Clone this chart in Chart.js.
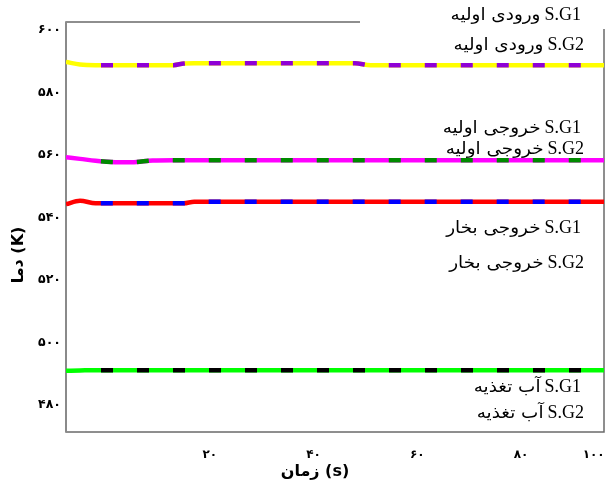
<!DOCTYPE html>
<html><head><meta charset="utf-8">
<script src="https://cdn.jsdelivr.net/npm/chart.js@4"></script>
<style>html,body{margin:0;padding:0;background:#fff}#wrap{width:612px;height:492px;position:relative}</style>
</head><body><div id="wrap"><canvas id="c" width="612" height="492"></canvas></div>
<script>
// time (s)
const timeS      = [-7.7, -5, -2, 1, 5, 9, 13, 15, 17, 48, 51, 70, 96];
// temperatures (K); S.G2 curves are not drawn at the very first instant
const inletSG1   = [589.8, 589.0, 588.8, 588.8, 588.8, 588.8, 588.8, 589.3, 589.4, 589.4, 588.8, 588.8, 588.8];
const inletSG2   = [null,  589.0, 588.8, 588.8, 588.8, 588.8, 588.8, 589.3, 589.4, 589.4, 588.8, 588.8, 588.8];
const outletSG1  = [559.3, 558.8, 558.2, 557.8, 557.7, 558.3, 558.4, 558.4, 558.4, 558.4, 558.4, 558.4, 558.4];
const outletSG2  = [null,  558.8, 558.2, 557.8, 557.7, 558.3, 558.4, 558.4, 558.4, 558.4, 558.4, 558.4, 558.4];
const steamSG1   = [544.3, 545.4, 544.6, 544.6, 544.6, 544.6, 544.6, 544.6, 545.1, 545.1, 545.1, 545.1, 545.1];
const steamSG2   = [null,  545.4, 544.6, 544.6, 544.6, 544.6, 544.6, 544.6, 545.1, 545.1, 545.1, 545.1, 545.1];
const feedSG1    = [491.0, 491.1, 491.2, 491.2, 491.2, 491.2, 491.2, 491.2, 491.2, 491.2, 491.2, 491.2, 491.2];
const feedSG2    = [null,  491.1, 491.2, 491.2, 491.2, 491.2, 491.2, 491.2, 491.2, 491.2, 491.2, 491.2, 491.2];

const yTickValues = [480, 500, 520, 540, 560, 580, 600];
const yTickLabels = ['۴۸۰', '۵۰۰', '۵۲۰', '۵۴۰', '۵۶۰', '۵۸۰', '۶۰۰'];
const xTickValues = [20, 40, 60, 80, 100];
const xTickLabels = ['۲۰', '۴۰', '۶۰', '۸۰', '۱۰۰'];
const seriesNames = [
  'S.G1 ورودی اولیه', 'S.G2 ورودی اولیه',
  'S.G1 خروجی اولیه', 'S.G2 خروجی اولیه',
  'S.G1 خروجی بخار', 'S.G2 خروجی بخار',
  'S.G1 آب تغذیه', 'S.G2 آب تغذیه'
];
const xTitle = 'زمان (s)';
const yTitle = 'دما (K)';

const X_MIN = -7.7, X_MAX = 96, Y_MIN = 471.4, Y_MAX = 602.6;

const pts = arr => arr.map((v, i) => ({x: timeS[i], y: v}));
function solid(name, arr, color) {
  return {label: name, data: pts(arr), borderColor: color, borderWidth: 4.5,
    pointRadius: 0, cubicInterpolationMode: 'monotone', order: 2};
}
function dashed(name, arr, color) {
  return {label: name, data: pts(arr), borderColor: color, borderWidth: 4.5,
    borderDash: [12, 24], borderDashOffset: 15, borderCapStyle: 'butt',
    pointRadius: 0, cubicInterpolationMode: 'monotone', order: 1};
}

// label placement (layout only)
const labelLayout = [
  {right: 581, y: 15}, {right: 584, y: 45},
  {right: 581, y: 128}, {right: 584, y: 149},
  {right: 581, y: 228}, {right: 584, y: 263},
  {right: 581, y: 387}, {right: 584, y: 413}
];

const decor = {
  id: 'decor',
  beforeDatasetsDraw(chart) {
    const {ctx, chartArea: a} = chart;
    ctx.save();
    ctx.strokeStyle = '#6a6a6a';
    ctx.lineWidth = 1.5;
    ctx.strokeRect(a.left, a.top, a.right - a.left, a.bottom - a.top);
    ctx.strokeStyle = '#8a8a8a';
    ctx.lineWidth = 2;
    ctx.beginPath(); ctx.moveTo(a.left, a.top); ctx.lineTo(a.left, a.bottom); ctx.stroke();
    ctx.restore();
  },
  afterDatasetsDraw(chart) {
    const {ctx} = chart;
    ctx.save();
    ctx.fillStyle = '#fff';
    ctx.fillRect(360, 0, 252, 29);
    ctx.fillStyle = '#000';
    ctx.textBaseline = 'middle';
    ctx.direction = 'ltr';
    ctx.textAlign = 'right';
    seriesNames.forEach((t, i) => {
      const k = t.indexOf(' ');
      const latin = t.slice(0, k), arabic = t.slice(k + 1);
      const L = labelLayout[i];
      ctx.font = '18px "Liberation Serif"';
      const wl = ctx.measureText(latin).width;
      ctx.fillText(latin, L.right, L.y);
      ctx.font = '17px "DejaVu Sans"';
      ctx.save();
      ctx.translate(L.right - wl - 4, L.y + 1);
      ctx.scale(1.08, 1);
      ctx.fillText(arabic, 0, 0);
      ctx.restore();
    });
    // axis titles
    ctx.textAlign = 'center';
    ctx.font = 'bold 16px "DejaVu Sans"';
    ctx.fillText(xTitle, 315, 472);
    ctx.translate(19, 255);
    ctx.rotate(-Math.PI / 2);
    ctx.fillText(yTitle, 0, 0);
    ctx.restore();
  }
};

new Chart(document.getElementById('c'), {
  type: 'line',
  data: {
    datasets: [
      solid(seriesNames[0], inletSG1, '#ffff00'),
      dashed(seriesNames[1], inletSG2, '#8f00d6'),
      solid(seriesNames[2], outletSG1, '#ff00ff'),
      dashed(seriesNames[3], outletSG2, '#008a00'),
      solid(seriesNames[4], steamSG1, '#ff0000'),
      dashed(seriesNames[5], steamSG2, '#0000ff'),
      solid(seriesNames[6], feedSG1, '#00ff00'),
      dashed(seriesNames[7], feedSG2, '#000000')
    ]
  },
  options: {
    responsive: false,
    animation: false,
    layout: {padding: {top: 22, right: 8, left: 0, bottom: 0}},
    plugins: {legend: {display: false}, tooltip: {enabled: false}},
    scales: {
      x: {
        type: 'linear', min: X_MIN, max: X_MAX,
        grid: {display: false, drawTicks: false},
        border: {display: false},
        afterBuildTicks: s => { s.ticks = xTickValues.map(v => ({value: Math.min(v, s.max - 2)})); },
        afterFit: s => { s.height = 60; s.paddingRight = 0; s.paddingLeft = 0; },
        ticks: {
          padding: 16, color: '#000', maxRotation: 0, autoSkip: false,
          font: {family: 'DejaVu Sans', size: 12, weight: 'bold'},
          callback: (v, i) => xTickLabels[i]
        }
      },
      y: {
        type: 'linear', min: Y_MIN, max: Y_MAX,
        grid: {display: false, drawTicks: false},
        border: {display: false},
        afterBuildTicks: s => { s.ticks = yTickValues.map(v => ({value: v})); },
        afterFit: s => { s.width = 66; s.paddingTop = 0; s.paddingBottom = 0; },
        ticks: {
          padding: 5, color: '#000', autoSkip: false,
          font: {family: 'DejaVu Sans', size: 12.5, weight: 'bold'},
          callback: (v, i) => yTickLabels[i]
        }
      }
    }
  },
  plugins: [decor]
});
</script>
</body></html>
